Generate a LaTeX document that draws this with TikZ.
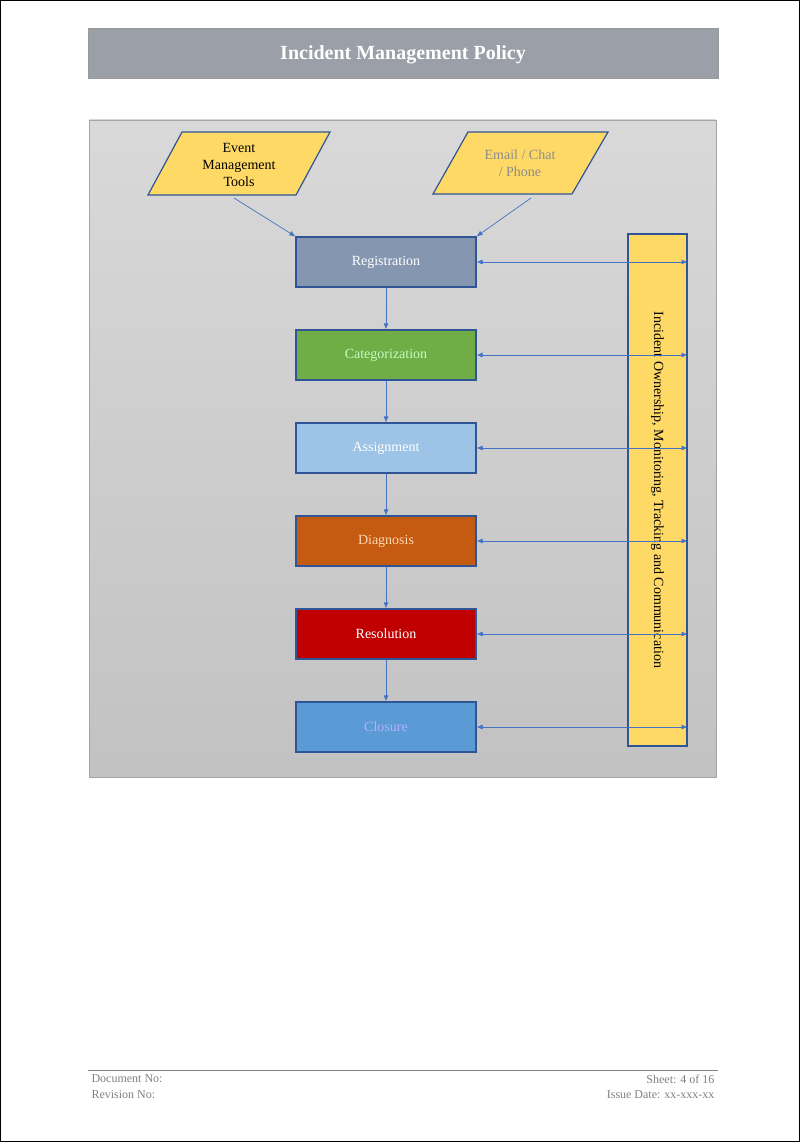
\documentclass[tikz,border=0pt]{standalone}
\usepackage{fontspec}
\setmainfont{Liberation Serif}
\usetikzlibrary{arrows.meta}
\definecolor{titlegray}{HTML}{9BA0A8}
\definecolor{boxline}{HTML}{2F5597}
\definecolor{arrowblue}{HTML}{4472C4}
\definecolor{inputyellow}{HTML}{FFD966}
\tikzset{
  stage/.style={rectangle,draw=boxline,line width=1.2pt,minimum width=180pt,minimum height=50pt,text=white,font=\fontsize{14}{16}\selectfont},
  flow/.style={-{Latex[length=6pt,width=5pt]},arrowblue,line width=0.7pt},
  link/.style={{Latex[length=6pt,width=5pt]}-{Latex[length=6pt,width=5pt]},arrowblue,line width=0.7pt},
  footer/.style={text=gray,font=\fontsize{12}{14}\selectfont}
}
\begin{document}
\begin{tikzpicture}[x=1pt,y=-1pt]
	\useasboundingbox (0,0) rectangle (800,1142);
	\draw[line width=1pt] (0.5,0.5) rectangle (799.5,1141.5);

	% title bar
	\fill[titlegray] (88,28) rectangle (718,78);
	\draw[gray!80] (88,28) rectangle (718,78);
	\node at (403,55) [text=white,font=\bfseries\fontsize{20}{24}\selectfont] (title) {Incident Management Policy};

	% diagram background
	\shade[top color=gray!30,bottom color=gray!48] (89,120) rectangle (716,777);
	\draw[gray!70] (89,120) rectangle (716,777);

	% inputs
	\draw[fill=inputyellow,draw=boxline,line width=1.2pt] (148,195) -- (182,132) -- (330,132) -- (296,195) -- cycle;
	\draw[fill=inputyellow,draw=boxline,line width=1.2pt] (433,194) -- (468,132) -- (608,132) -- (572,194) -- cycle;
	\node at (239,165) [align=center,font=\fontsize{14}{17}\selectfont] (event_tools) {Event\\Management\\Tools};
	\node at (520,163) [align=center,text=black!45,font=\fontsize{14}{17}\selectfont] (email_chat) {Email / Chat\\/ Phone};
	\coordinate (event_out) at (234,198);
	\coordinate (email_out) at (531,198);

	% stages
	\node at (386,262) [stage,fill={rgb,255:red,132;green,150;blue,176}] (registration)   {Registration};
	\node at (386,355) [stage,fill={rgb,255:red,112;green,173;blue,71},text=white!75!green] (categorization) {Categorization};
	\node at (386,448) [stage,fill={rgb,255:red,157;green,195;blue,230}] (assignment)     {Assignment};
	\node at (386,541) [stage,fill={rgb,255:red,197;green,90;blue,17},text=white!70!orange] (diagnosis)      {Diagnosis};
	\node at (386,634) [stage,fill={rgb,255:red,192;green,0;blue,0}] (resolution)     {Resolution};
	\node at (386,727) [stage,fill={rgb,255:red,91;green,155;blue,213},text=white!70!blue] (closure)        {Closure};

	% ownership bar
	\node at (657.5,490) [rectangle,draw=boxline,line width=1.2pt,fill=inputyellow,rotate=-90,minimum width=512pt,minimum height=59pt,font=\fontsize{14}{16}\selectfont] (ownership) {Incident Ownership, Monitoring, Tracking and Communication};

	\draw[flow] (event_out) -- (registration.north west);
	\draw[flow] (email_out) -- (registration.north east);
	\draw[flow] (registration)   -- (categorization);
	\draw[flow] (categorization) -- (assignment);
	\draw[flow] (assignment)     -- (diagnosis);
	\draw[flow] (diagnosis)      -- (resolution);
	\draw[flow] (resolution)     -- (closure);

	\foreach \stagename in {registration,categorization,assignment,diagnosis,resolution,closure}
		\draw[link] (\stagename.east) -- (\stagename.east -| ownership.north);

	% footer
	\draw[gray,line width=0.8pt] (88,1070) -- (718,1070);
	\node at (88,1079)  [footer,anchor=west] (doc_no)     {Document No:};
	\node at (88,1095)  [footer,anchor=west] (rev_no)     {Revision No:};
	\node at (718,1079) [footer,anchor=east] (sheet)      {Sheet: 4 of 16};
	\node at (718,1095) [footer,anchor=east] (issue_date) {Issue Date: xx-xxx-xx};
\end{tikzpicture}
\end{document}
